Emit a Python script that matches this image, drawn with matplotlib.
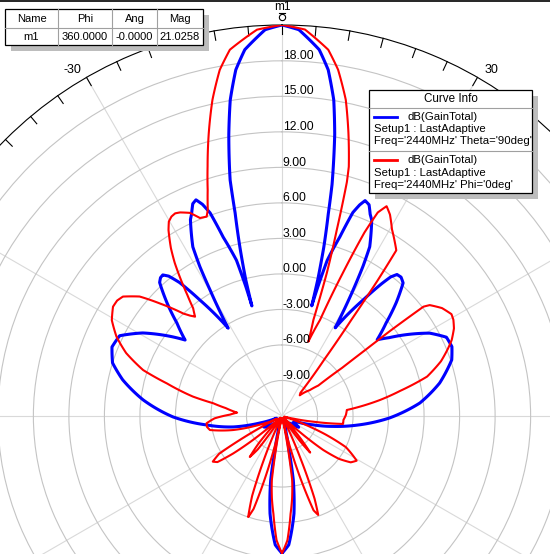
import numpy as np
import matplotlib.pyplot as plt
import matplotlib.transforms as mtransforms
from matplotlib.patches import Rectangle, PathPatch
from matplotlib.path import Path
from matplotlib.lines import Line2D

plt.rcParams['font.family'] = ['Liberation Sans', 'DejaVu Sans']
plt.rcParams['path.simplify'] = False

# =========================
# PATTERN DATA (deg clockwise from top, dB)
# =========================
# dB(GainTotal), Theta='90deg' (phi cut)
blue_ang = [-180, -177, -173, -170, -168.4, -166, -160, -150, -140, -132, -126, -121, -116, -112,
            -107.6, -102.7, -96.8, -90.5, -83.4, -77.2, -72.6, -67.9, -63.7, -59.2, -54.1, -51.9,
            -48.5, -45.5, -42.5, -41.3, -40.2, -39.0, -37.5, -35.3, -31.5, -29.7, -28.8, -27.8,
            -25.0, -24.1, -22.8, -21.7, -20.6, -19.5, -18.2, -16.3, -15.6, -15.3, -14.9, -14.0,
            -13.0, -12.4, -12.0, -10.7, -9.3, -7.6, -5.8, -2.5, 0,
            2.5, 5.8, 7.6, 9.3, 10.6, 11.7, 12.2, 12.9, 13.9, 14.7, 15.1, 15.5, 16.2, 17.9, 19.2,
            20.2, 21.1, 22.4, 23.6, 24.6, 27.4, 28.4, 29.4, 31.1, 35.0, 37.0, 38.0, 39.1, 40.6,
            42.3, 45.2, 48.2, 51.3, 53.8, 60.7, 64.4, 67.8, 71.7, 78.2, 84.6, 91.0, 96.9, 101.5,
            106.0, 112, 118.6, 124, 130, 140, 150, 160, 166, 168.4, 170, 173, 177, 180]
blue_db = [-0.4, -1.1, -3.7, -6.5, -9.1, -10.6, -11.2, -11.4, -11.2, -11.0, -10.4, -10.2, -11.0, -11.5,
           -10.05, -7.8, -5.6, -2.8, -0.2, 1.8, 3.0, 3.5, 3.3, 1.7, -0.6, -1.6,
           -0.15, 1.6, 3.3, 3.55, 3.6, 3.2, 2.2, 0.0, -3.3, 0.3, 2.4, 4.15,
           6.3, 6.7, 7.45, 7.65, 7.1, 6.2, 3.9, 1.7, -0.7, -2.36, -0.1, 2.7,
           5.6, 8.4, 9.3, 12.2, 15.05, 17.5, 19.1, 20.66, 21.03,
           20.66, 19.1, 17.5, 15.05, 12.2, 9.3, 8.0, 5.5, 2.7, -0.1, -2.36, -0.7, 1.7, 3.9, 6.2,
           7.0, 7.5, 7.3, 6.6, 6.2, 4.1, 2.4, 0.3, -3.3, 0.0, 2.0, 2.9, 3.4, 3.45,
           3.2, 1.6, -0.2, -1.7, -0.8, 2.3, 3.4, 3.5, 3.1, 1.6, -0.3, -2.9, -5.6, -7.6,
           -9.3, -10.8, -10.9, -10.3, -11.0, -11.3, -11.4, -11.2, -10.6, -9.1, -6.5, -3.7, -1.1, -0.4]

# dB(GainTotal), Phi='0deg' (theta cut)
red_ang = [-180, -177.5, -175, -173, -171, -170, -168, -165, -163, -161.5, -159.5, -157.5, -155,
           -151, -146.5, -144, -141.8, -139.5, -137, -134, -132, -129.5, -127.5, -125.5, -123.4,
           -121, -119.5, -117, -115.5, -113, -110, -106, -101, -98.3, -95.5, -92, -88.5, -85.7,
           -82, -79.5, -77.7, -74.2, -71.7, -68, -64.4, -60.6, -57.1, -55.0, -53.1, -50, -47.3,
           -43.9, -42.5, -41.2, -39.5, -38, -36.5, -35, -33.5, -31.4, -30.2, -29.0, -27.8, -26.6,
           -24.4, -22.5, -20.7, -19.8, -18.2, -16.6, -14.5, -12.4, -10.2, -8.1, -3.7, 0,
           3.4, 7.2, 9.2, 11.4, 13.2, 15.0, 15.5, 16.4, 17.4, 18.1, 19.5, 21.6, 23.0, 24.2,
           25.2, 26.5, 28.2, 30.5, 33, 34.6, 35.2, 35.8, 36.8, 38.5, 40.6, 44, 47, 50, 51.3,
           51.6, 51.8, 52.3, 53.1, 56, 59, 60.7, 63, 65.9, 68, 71, 74.8, 78, 80.7, 84.7, 89,
           93.7, 97.4, 100.3, 103, 106, 108, 111, 113, 116, 120.9, 124, 127, 129.5, 132, 134,
           136, 138, 140.5, 142.4, 144.5, 147, 150.5, 154, 156.5, 158.5, 159.9, 161.5, 163.5,
           166, 168, 170, 171, 173, 175, 177.5, 180]
red_db = [-0.4, -1.5, -3.7, -5.0, -6.5, -8.5, -11.8, -7.0, -3.8, -3.0, -4.8, -8.0, -11.5,
          -11.8, -11.5, -8.5, -7.6, -9.0, -11.5, -11.8, -11.5, -8.8, -6.8, -5.3, -5.0,
          -5.8, -8.0, -11.5, -10.8, -10.5, -9.5, -7.7, -5.8, -5.6, -5.6, -6.3, -7.6, -8.2,
          -7.2, -6.1, -4.3, -1.9, 0.35, 2.2, 3.5, 4.5, 5.0, 5.0, 4.8, 3.7, 2.0,
          0.0, -0.5, -0.85, -0.2, 1.0, 2.4, 3.8, 5.0, 6.4, 7.0, 7.26, 7.35, 7.23,
          6.84, 6.1, 6.0, 6.5, 8.1, 10.0, 12.7, 15.35, 17.7, 19.25, 20.7, 21.03,
          20.7, 19.18, 17.63, 15.25, 12.57, 9.8, 8.5, 4.4, 0.66, -3.46, -5.34, -3.27, 1.0, 5.0,
          7.0, 7.8, 7.3, 6.3, 5.5, 5.0, 2.0, -2.0, -6.0, -9.5, -9.7, -9.2, -8.8, -8.0, -5.5,
          -3.0, -0.3, 3.1, 3.6, 4.3, 4.7, 4.6, 4.3, 3.7, 3.1, 2.2, 0.7, -1.8, -3.6, -6.5, -6.6,
          -6.8, -6.8, -9.3, -11.0, -11.8, -11.5, -9.5, -8.0, -6.0, -4.65, -5.0, -6.0, -7.5, -10.0, -11.5,
          -11.8, -11.5, -9.5, -8.1, -9.5, -11.5, -11.8, -11.5, -8.0, -4.5, -3.1, -3.6, -6.5,
          -10.0, -11.8, -8.5, -6.5, -5.0, -3.7, -1.5, -0.4]

r_min, r_max = -12.0, 21.0258
r_ticks = [-9, -6, -3, 0, 3, 6, 9, 12, 15, 18]
theta_labels = [-30, 30]

table_cols = ["Name", "Phi", "Ang", "Mag"]
table_row = ["m1", "360.0000", "-0.0000", "21.0258"]

legend_entries = [
    ("blue", "dB(GainTotal)", "Setup1 : LastAdaptive", "Freq='2440MHz' Theta='90deg'"),
    ("red", "dB(GainTotal)", "Setup1 : LastAdaptive", "Freq='2440MHz' Phi='0deg'"),
]

# =========================
# FIGURE / POLAR AXES
# =========================
W, H = 550, 554
fig = plt.figure(figsize=(W / 100, H / 100), dpi=100)
fig.patch.set_facecolor("white")

cx, cy, R = 282, 416, 391   # centre and outer radius in pixels
ax = fig.add_axes([(cx - R) / W, (H - cy - R) / H, 2 * R / W, 2 * R / H], projection="polar")
ax.set_theta_zero_location("N")
ax.set_theta_direction(-1)
ax.set_rlim(r_min, r_max)
ax.set_rticks(r_ticks)
ax.set_yticklabels([])
ax.set_thetagrids(np.arange(0, 360, 30), labels=[])
ax.xaxis.grid(True, color="#d9d9d9", lw=0.8)
ax.yaxis.grid(True, color="#c4c4c4", lw=0.8)
ax.spines["polar"].set_color("black")
ax.spines["polar"].set_linewidth(0.8)
ax.tick_params(length=0)
ax.set_facecolor("white")

# ticks on the outer ring every 5 deg
for a in range(0, 360, 5):
    t = np.deg2rad(a)
    ax.plot([t, t], [r_max - 0.8, r_max], color="black", lw=0.8, clip_on=False)


def pattern(ang, db, color, lw, z):
    # path with interpolation steps so the polar transform bends the segments
    verts = np.column_stack([np.deg2rad(ang), np.clip(db, r_min, None)])
    path = Path(verts, _interpolation_steps=16)
    path.should_simplify = False
    ax.add_patch(PathPatch(path, fill=False, edgecolor=color, lw=lw, joinstyle="round",
                           capstyle="round", zorder=z))


pattern(blue_ang, blue_db, "#0000ff", 2.2, 5)
pattern(red_ang, red_db, "#ff0000", 1.5, 6)

# radial labels
lab_tr = mtransforms.offset_copy(ax.transData, fig=fig, x=0.5, y=3.5, units="points")
for v in r_ticks:
    ax.text(0, v, f"{v:.2f}", transform=lab_tr, ha="left", va="center", fontsize=8.7, zorder=7)

for a in theta_labels:
    ax.text(np.deg2rad(a * 1.04), 22.2, str(a), ha="center", va="center", fontsize=9, clip_on=False)

# =========================
# OVERLAYS IN PIXEL COORDS
# =========================
pix = mtransforms.Affine2D().scale(1 / W, -1 / H).translate(0, 1) + fig.transFigure

def box(x0, y0, x1, y1, shadow=6):
    fig.add_artist(Rectangle((x0 + shadow, y0 + shadow), x1 - x0, y1 - y0, transform=pix,
                             facecolor="#bdbdbd", edgecolor="none", zorder=10))
    fig.add_artist(Rectangle((x0, y0), x1 - x0, y1 - y0, transform=pix,
                             facecolor="white", edgecolor="black", lw=0.9, zorder=11))

def hline(x0, x1, y, color="#a0a0a0", lw=0.8):
    fig.add_artist(Line2D([x0, x1], [y, y], transform=pix, color=color, lw=lw, zorder=12))

def vline(x, y0, y1, color="#a0a0a0", lw=0.8):
    fig.add_artist(Line2D([x, x], [y0, y1], transform=pix, color=color, lw=lw, zorder=12))

# marker table
box(5, 9, 203, 45)
hline(5, 203, 28)
col_edges = [5, 58, 112, 157, 203]
for x in col_edges[1:-1]:
    vline(x, 9, 45)
for i in range(4):
    xm = (col_edges[i] + col_edges[i + 1]) / 2
    fig.text(xm, 19, table_cols[i], transform=pix, ha="center", va="center", fontsize=8, zorder=13)
    fig.text(xm, 36.5, table_row[i], transform=pix, ha="center", va="center", fontsize=8, zorder=13)

# curve info legend
box(369, 90, 532, 193)
hline(369, 532, 108)
hline(369, 532, 151)
fig.text(450.5, 99.5, "Curve Info", transform=pix, ha="center", va="center", fontsize=8.4, zorder=13)
for k, (col, l1, l2, l3) in enumerate(legend_entries):
    y = 117 + 43 * k
    fig.add_artist(Line2D([374, 397], [y, y], transform=pix, color=col, lw=2.0, zorder=13))
    fig.text(407, y, l1, transform=pix, ha="left", va="center", fontsize=8.2, zorder=13)
    fig.text(374, y + 12.5, l2, transform=pix, ha="left", va="center", fontsize=8.2, zorder=13)
    fig.text(374, y + 24.5, l3, transform=pix, ha="left", va="center", fontsize=8.2, zorder=13)

# marker m1 at the peak
fig.text(282, 7, "m1", transform=pix, ha="center", va="center", fontsize=8.5, zorder=13)
fig.add_artist(Line2D([282], [17], transform=pix, marker="o", ms=4.5, mfc="white", mec="black",
                      mew=0.8, zorder=13))
fig.add_artist(Line2D([279, 285], [13, 13], transform=pix, color="black", lw=0.8, zorder=13))

# top border line
fig.add_artist(Line2D([0, W], [0.5, 0.5], transform=pix, color="black", lw=1.2, zorder=13))

fig.savefig("out.png", dpi=100)
